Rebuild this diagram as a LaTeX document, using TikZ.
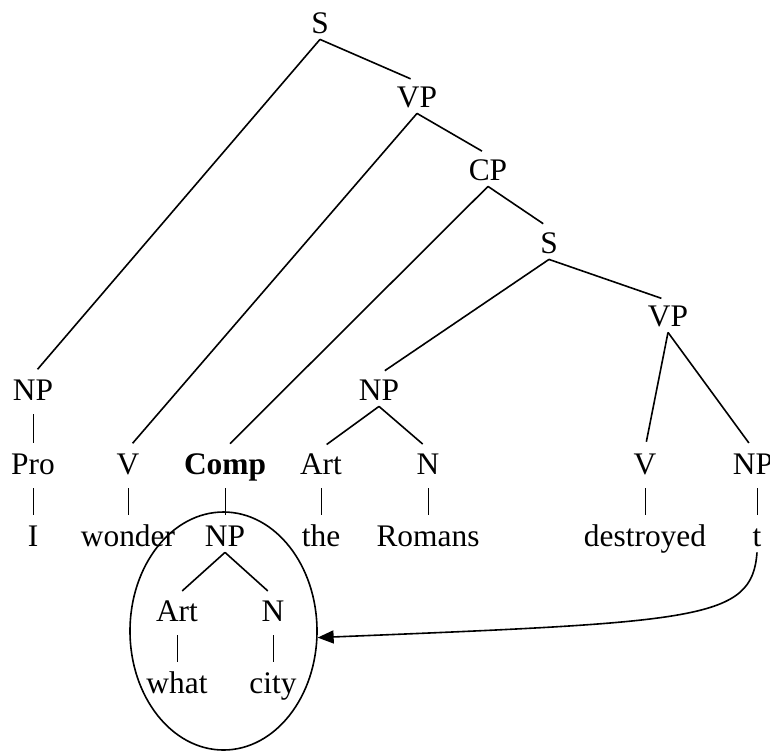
\documentclass[tikz,border=0pt]{standalone}
\usepackage{fontspec}
\setmainfont{Liberation Serif}
\usetikzlibrary{arrows.meta}
\usetikzlibrary{shapes.geometric}
\tikzset{>={Triangle[length=8pt,width=6.5pt]}}
\tikzset{
  cat/.style={anchor=base, inner xsep=0pt, inner ysep=2pt, text height=10.5pt,
    text depth=1pt, font=\fontsize{15.7}{18}\selectfont},
  branch/.style={line width=0.8pt, shorten >=3.5pt},
  bar/.style={line width=0.5pt, shorten <=4pt, shorten >=3pt},
}

\begin{document}
\begin{tikzpicture}[x=0.5pt,y=-0.5pt]
  \useasboundingbox (0,0) rectangle (770,751);

  % 上层结点
  \node[cat] (S0) at (320,33) {S};
  \node[cat] (VP0) at (417,107) {VP};
  \node[cat] (CP) at (488,180) {CP};
  \node[cat] (S1) at (549,253) {S};
  \node[cat] (VP1) at (668,326) {VP};
  \node[cat] (NP0) at (33,400) {NP};
  \node[cat] (NP1) at (379,400) {NP};

  % 词类
  \node[cat] (Pro) at (33,474) {Pro};
  \node[cat] (V0) at (128,474) {V};
  \node[cat] (Comp) at (225,474) {\bfseries Comp};
  \node[cat] (Art0) at (321,474) {Art};
  \node[cat] (N0) at (428,474) {N};
  \node[cat] (V1) at (645,474) {V};
  \node[cat] (NP2) at (753,474) {NP};

  % 词
  \node[cat] (I) at (33,546) {I};
  \node[cat] (wonder) at (128,546) {wonder};
  \node[cat] (NP3) at (225,546) {NP};
  \node[cat] (the) at (321,546) {the};
  \node[cat] (Romans) at (428,546) {Romans};
  \node[cat] (destroyed) at (645,546) {destroyed};
  \node[cat] (t) at (757,546) {t};

  % 圈内子树
  \node[cat] (Art1) at (177,621) {Art};
  \node[cat] (N1) at (273,621) {N};
  \node[cat] (what) at (177,693) {what};
  \node[cat] (city) at (273,693) {city};
  \node[draw, ellipse, line width=0.8pt, minimum width=93.5pt,
    minimum height=119pt, inner sep=0pt] (wh) at (223.5,631) {};

  % 树枝
  \draw[branch] (S0.south) -- (NP0.north);
  \draw[branch] (S0.south) -- (VP0.north);
  \draw[branch] (VP0.south) -- (V0.north);
  \draw[branch] (VP0.south) -- (CP.north);
  \draw[branch] (CP.south) -- (Comp.north);
  \draw[branch] (CP.south) -- (S1.north);
  \draw[branch] (S1.south) -- (NP1.north);
  \draw[branch] (S1.south) -- (VP1.north);
  \draw[branch] (VP1.south) -- (V1.north);
  \draw[branch] (VP1.south) -- (NP2.north);
  \draw[branch] (NP1.south) -- (Art0.north);
  \draw[branch] (NP1.south) -- (N0.north);
  \draw[branch] (NP3.south) -- (Art1.north);
  \draw[branch] (NP3.south) -- (N1.north);

  % 竖线
  \draw[bar] (NP0.south) -- (Pro.north);
  \draw[bar] (Pro.south) -- (I.north);
  \draw[bar] (V0.south) -- (wonder.north);
  \draw[bar] (Comp.south) -- (NP3.north);
  \draw[bar] (Art0.south) -- (the.north);
  \draw[bar] (N0.south) -- (Romans.north);
  \draw[bar] (V1.south) -- (destroyed.north);
  \draw[bar] (t.north |- NP2.south) -- (t.north);
  \draw[bar] (Art1.south) -- (what.north);
  \draw[bar] (N1.south) -- (city.north);

  % 移位箭头
  \draw[->, line width=0.8pt] (t.south) .. controls (752,620) and (700,622) .. (wh.-4);
\end{tikzpicture}
\end{document}
